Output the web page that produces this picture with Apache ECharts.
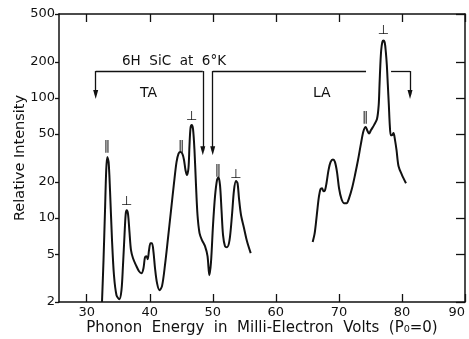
<!DOCTYPE html>
<html>
<head>
<meta charset="utf-8">
<script src="https://cdn.jsdelivr.net/npm/echarts@6/dist/echarts.min.js"></script>
<style>
  html, body { margin: 0; padding: 0; background: #fff; }
  #chart { width: 469px; height: 339px; }
</style>
</head>
<body>
<div id="chart"></div>
<script>
// Phonon-assisted luminescence of 6H SiC at 6 K: relative intensity vs phonon energy (meV)

// Transverse-acoustic (TA) branch
const taEnergy = [32.42, 32.66, 32.90, 33.09, 33.26, 33.47, 33.69, 34.01, 34.32, 34.72,
  35.17, 35.51, 35.75, 35.99, 36.18, 36.34, 36.55, 36.78, 37.02, 37.34,
  37.81, 38.29, 38.69, 39.00, 39.24, 39.48, 39.67, 39.88, 40.11, 40.35,
  40.59, 40.83, 41.15, 41.54, 41.94, 42.41, 42.89, 43.37, 43.84, 44.24,
  44.56, 44.87, 45.19, 45.43, 45.67, 45.90, 46.14, 46.30, 46.46, 46.65,
  46.86, 47.09, 47.33, 47.57, 47.89, 48.28, 48.76, 49.16, 49.44, 49.71,
  50.03, 50.35, 50.66, 50.90, 51.14, 51.38, 51.62, 51.93, 52.25, 52.65,
  53.04, 53.36, 53.68, 53.92, 54.15, 54.47, 54.95, 55.42, 56.01];
const taIntensity = [2.0, 4.46, 11.6, 25.0, 32.2, 29.2, 17.1, 6.54, 3.34, 2.28,
  2.11, 2.51, 4.05, 7.2, 10.8, 11.6, 10.8, 7.63, 5.4, 4.63,
  4.05, 3.61, 3.47, 3.82, 4.72, 4.8, 4.54, 5.4, 6.17, 6.17,
  5.2, 3.82, 2.87, 2.51, 2.71, 4.05, 6.8, 11.6, 19.5, 29.2,
  34.4, 35.4, 34.1, 30.4, 25.0, 22.8, 26.1, 40.5, 56.1, 59.4,
  55.0, 36.8, 18.8, 10.6, 7.5, 6.54, 5.83, 4.81, 3.34, 4.29,
  8.73, 15.2, 20.7, 21.9, 18.8, 11.6, 7.2, 5.83, 5.72, 6.54,
  10.6, 17.1, 20.3, 19.5, 14.6, 10.6, 8.23, 6.41, 5.1];

// Longitudinal-acoustic (LA) branch
const laEnergy = [65.84, 66.13, 66.37, 66.61, 66.84, 67.08, 67.32, 67.56, 67.80, 68.03,
  68.35, 68.67, 69.06, 69.38, 69.70, 70.02, 70.41, 70.81, 71.21, 71.60,
  72.08, 72.55, 73.03, 73.51, 73.90, 74.25, 74.54, 74.78, 75.09, 75.57,
  76.04, 76.31, 76.44, 76.57, 76.71, 76.89, 77.07, 77.28, 77.44, 77.60,
  77.76, 77.92, 78.07, 78.23, 78.42, 78.66, 78.90, 79.14, 79.46, 80.01, 80.64];
const laIntensity = [6.33, 7.34, 9.24, 12.1, 15.2, 17.4, 17.7, 16.7, 17.1, 19.5,
  25.05, 29.2, 30.7, 29.2, 24.1, 17.7, 14.4, 13.3, 13.3, 14.6,
  17.7, 22.8, 30.4, 42.1, 53.0, 57.2, 53.0, 50.5, 54.0, 59.4,
  66.7, 87.2, 128, 188, 250.6, 292, 300.8, 286.6, 241.5, 188,
  128, 87.2, 59.4, 49.0, 49.0, 51.0, 44.6, 36.8, 27.0, 22.8, 19.5];

// Axis ticks
const xTicks = [30, 40, 50, 60, 70, 80, 90];
const yTicks = [2, 5, 10, 20, 50, 100, 200, 500];

// Polarisation of each peak (∥ or ⊥ to the c axis), placed above the peak
const taPolarisation = [
  { text: '∥', at: [33.17, 39.7] },
  { text: '⊥', at: [36.34, 13.6] },
  { text: '∥', at: [44.95, 39.7] },
  { text: '⊥', at: [46.65, 69.3] },
  { text: '∥', at: [50.77, 24.6] },
  { text: '⊥', at: [53.68, 22.8] }
];
const laPolarisation = [
  { text: '∥', at: [74.14, 68.6] },
  { text: '⊥', at: [77.05, 361] }
];

// Brackets marking the TA and LA ranges: [from, to, arrowhead at end]
const bracketSegments = [
  [[31.42, 167.5], [48.41, 167.5], false],
  [[31.42, 167.5], [31.42, 106.7], true],
  [[48.41, 167.5], [48.41, 36.3], true],
  [[49.98, 167.5], [74.30, 167.5], false],
  [[78.27, 167.5], [81.28, 167.5], false],
  [[49.98, 167.5], [49.98, 36.3], true],
  [[81.28, 167.5], [81.28, 106.7], true]
];

const INK = '#111';
const FONT = 'DejaVu Sans';
const X_MIN = 25.6, X_MAX = 90;
const Y_MIN = 2, Y_MAX = 500;
const yTickPos = yTicks.map(v => Math.log10(v));

function pairs(xs, ys) { return xs.map((x, i) => [x, ys[i]]); }

function polarisationMarks(list) {
  return {
    silent: true,
    animation: false,
    symbol: 'circle',
    symbolSize: 1,
    itemStyle: { color: 'transparent' },
    label: {
      show: true, position: 'inside', color: INK,
      fontFamily: FONT, fontSize: 13,
      formatter: p => p.name
    },
    data: list.map(m => ({ name: m.text, coord: m.at }))
  };
}

const chart = echarts.init(document.getElementById('chart'), null, { renderer: 'canvas' });

chart.setOption({
  animation: false,
  backgroundColor: '#fff',
  grid: { left: 59, right: 4, top: 14, bottom: 37, containLabel: false, outerBoundsMode: 'none' },
  xAxis: [
    {
      type: 'value', position: 'bottom', min: X_MIN, max: X_MAX,
      axisLine: { show: true, onZero: false, lineStyle: { color: INK, width: 1.5 } },
      axisTick: { show: true, inside: true, length: 8, customValues: xTicks, lineStyle: { color: INK, width: 1.3 } },
      axisLabel: { customValues: xTicks, margin: 4, color: INK, fontFamily: FONT, fontSize: 13, alignMaxLabel: 'right' },
      splitLine: { show: false },
      name: 'Phonon  Energy  in  Milli-Electron  Volts  (P₀=0)',
      nameLocation: 'middle', nameGap: 19, nameMoveOverlap: false,
      nameTextStyle: { color: INK, fontFamily: FONT, fontSize: 15, verticalAlign: 'top' }
    },
    {
      type: 'value', position: 'top', min: X_MIN, max: X_MAX,
      axisLine: { show: true, onZero: false, lineStyle: { color: INK, width: 1.5 } },
      axisTick: { show: true, inside: true, length: 8, customValues: xTicks, lineStyle: { color: INK, width: 1.3 } },
      axisLabel: { show: false },
      splitLine: { show: false }
    }
  ],
  yAxis: [
    // log scale that carries the data
    { type: 'log', logBase: 10, min: Y_MIN, max: Y_MAX, position: 'left', show: false, splitLine: { show: false } },
    // tick marks and labels at 2, 5, 10 ... on the same log span
    {
      type: 'value', position: 'left', min: Math.log10(Y_MIN), max: Math.log10(Y_MAX),
      axisLine: { show: true, onZero: false, lineStyle: { color: INK, width: 1.5 } },
      axisTick: { show: true, inside: false, length: 4, customValues: yTickPos, lineStyle: { color: INK, width: 1.3 } },
      axisLabel: {
        customValues: yTickPos, margin: 4, color: INK, fontFamily: FONT, fontSize: 13,
        formatter: v => String(Math.round(Math.pow(10, v)))
      },
      splitLine: { show: false },
      name: 'Relative Intensity', nameLocation: 'middle', nameGap: 31, nameRotate: 90,
      nameMoveOverlap: false,
      nameTextStyle: { color: INK, fontFamily: FONT, fontSize: 14.5 }
    },
    {
      type: 'value', position: 'right', min: Math.log10(Y_MIN), max: Math.log10(Y_MAX),
      axisLine: { show: true, onZero: false, lineStyle: { color: INK, width: 1.5 } },
      axisTick: { show: true, inside: true, length: 9, customValues: yTickPos, lineStyle: { color: INK, width: 1.3 } },
      axisLabel: { show: false },
      splitLine: { show: false }
    }
  ],
  graphic: [
    { type: 'text', left: 122, top: 54, style: { text: '6H  SiC  at  6°K', fill: INK, font: '13.5px "DejaVu Sans"' } },
    { type: 'text', left: 140, top: 86, style: { text: 'TA', fill: INK, font: '14px "DejaVu Sans"' } },
    { type: 'text', left: 313, top: 86, style: { text: 'LA', fill: INK, font: '14px "DejaVu Sans"' } }
  ],
  series: [
    {
      type: 'line', name: 'TA', xAxisIndex: 0, yAxisIndex: 0,
      data: pairs(taEnergy, taIntensity),
      symbol: 'none', smooth: 0.3,
      lineStyle: { color: INK, width: 2 },
      markPoint: polarisationMarks(taPolarisation),
      markLine: {
        silent: true, animation: false,
        symbol: ['none', 'none'],
        lineStyle: { color: INK, width: 1.3, type: 'solid' },
        label: { show: false },
        emphasis: { disabled: true },
        data: bracketSegments.map(([a, b, arrow]) => [
          { coord: a, symbol: 'none' },
          { coord: b, symbol: arrow ? 'triangle' : 'none', symbolSize: [5, 9] }
        ])
      }
    },
    {
      type: 'line', name: 'LA', xAxisIndex: 0, yAxisIndex: 0,
      data: pairs(laEnergy, laIntensity),
      symbol: 'none', smooth: 0.3,
      lineStyle: { color: INK, width: 2 },
      markPoint: polarisationMarks(laPolarisation)
    }
  ]
});
</script>
</body>
</html>
